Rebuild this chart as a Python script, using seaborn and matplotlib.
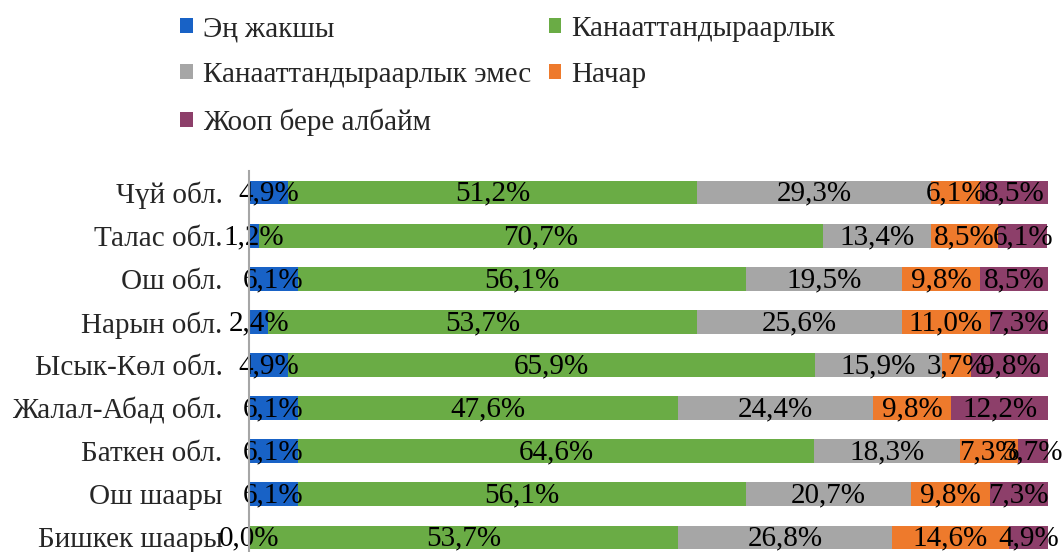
import matplotlib
matplotlib.use("Agg")
from matplotlib import pyplot as plt
from matplotlib.patches import Patch
import numpy as np
import pandas as pd
import seaborn as sns

regions = ["Чүй обл.", "Талас обл.", "Ош обл.", "Нарын обл.", "Ысык-Көл обл.",
           "Жалал-Абад обл.", "Баткен обл.", "Ош шаары", "Бишкек шаары"]
series = ["Эң жакшы", "Канааттандыраарлык", "Канааттандыраарлык эмес",
          "Начар", "Жооп бере албайм"]
best = [4.9, 1.2, 6.1, 2.4, 4.9, 6.1, 6.1, 6.1, 0.0]
satisfactory = [51.2, 70.7, 56.1, 53.7, 65.9, 47.6, 64.6, 56.1, 53.7]
unsatisfactory = [29.3, 13.4, 19.5, 25.6, 15.9, 24.4, 18.3, 20.7, 26.8]
bad = [6.1, 8.5, 9.8, 11.0, 3.7, 9.8, 7.3, 9.8, 14.6]
no_answer = [8.5, 6.1, 8.5, 7.3, 9.8, 12.2, 3.7, 7.3, 4.9]

colors = ["#1862C6", "#6AAC45", "#A6A6A6", "#EE7A2C", "#8D3F6A"]

sns.set_style("white")
plt.rcParams["font.family"] = ["Liberation Serif", "DejaVu Serif"]

df = pd.DataFrame({"region": regions, series[0]: best, series[1]: satisfactory,
                   series[2]: unsatisfactory, series[3]: bad, series[4]: no_answer})
vals = df[series].to_numpy()
cum = np.cumsum(vals, axis=1)

fig = plt.figure(figsize=(10.63, 5.52), dpi=100)
W, H = 1063, 552
ax = fig.add_axes([249 / W, -7 / H, 799 / W, 388 / H])

# draw cumulative totals from the last series back to the first
for i in range(len(series) - 1, -1, -1):
    plot_df = pd.DataFrame({"region": regions, "total": cum[:, i]})
    sns.barplot(data=plot_df, x="total", y="region", order=regions, color=colors[i],
                width=0.55, saturation=1, ax=ax, edgecolor="none", linewidth=0)

for r in range(len(regions)):
    left = 0
    for i in range(len(series)):
        v = vals[r, i]
        ax.text(left + v / 2, r + 0.03, f"{v:.1f}%".replace(".", ","), ha="center",
                va="center", fontsize=21, color="black")
        left += v

ax.set_xlim(0, 100)
ax.set_ylim(8.5, -0.5)
ax.set_xlabel("")
ax.set_ylabel("")
ax.set_xticks([])
ax.tick_params(axis="y", length=0, pad=19, labelsize=21)
for s in ["top", "right", "bottom"]:
    ax.spines[s].set_visible(False)
ax.spines["left"].set_color("#A6A6A6")
ax.spines["left"].set_linewidth(1.5)
ax.spines["left"].set_zorder(5)

handles = [Patch(facecolor=c, edgecolor="none") for c in colors]
order = [0, 2, 4, 1, 3]
fig.legend([handles[k] for k in order], [series[k] for k in order], ncol=2,
           loc="upper left", bbox_to_anchor=(180 / W, 1 - 16 / H), frameon=False,
           fontsize=21, handlelength=0.43, handleheight=0.43, handletextpad=0.35,
           columnspacing=0.6, labelspacing=0.69, borderpad=0, borderaxespad=0)

fig.savefig("out.png", dpi=100)
